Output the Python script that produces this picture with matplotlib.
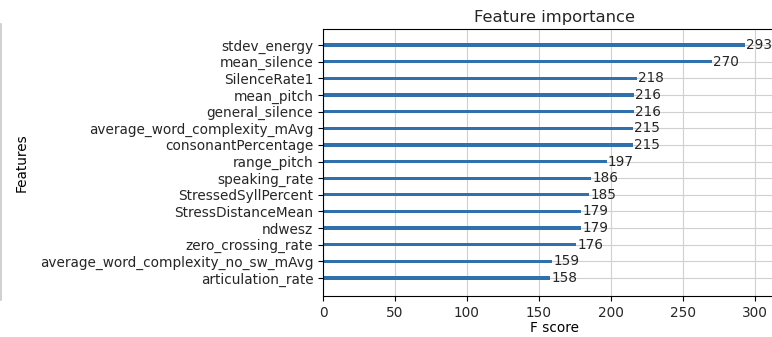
import matplotlib
matplotlib.use("Agg")
import matplotlib.pyplot as plt
from matplotlib.lines import Line2D

# feature importance (F score), listed bottom to top
features = [
    "articulation_rate",
    "average_word_complexity_no_sw_mAvg",
    "zero_crossing_rate",
    "ndwesz",
    "StressDistanceMean",
    "StressedSyllPercent",
    "speaking_rate",
    "range_pitch",
    "consonantPercentage",
    "average_word_complexity_mAvg",
    "general_silence",
    "mean_pitch",
    "SilenceRate1",
    "mean_silence",
    "stdev_energy",
]
scores = [158, 159, 176, 179, 179, 185, 186, 197, 215, 215, 216, 216, 218, 270, 293]

plt.rcParams["font.size"] = 9.8
plt.rcParams["text.color"] = "#262626"
plt.rcParams["xtick.labelcolor"] = "#262626"
plt.rcParams["ytick.labelcolor"] = "#262626"

fig = plt.figure(figsize=(7.72, 3.37), dpi=100)
ax = fig.add_axes([0.4184, 0.1217, 0.601, 0.792])

ylocs = range(len(features))
ax.barh(ylocs, scores, height=0.2, align="center", color="#2f70ad")
for x, y in zip(scores, ylocs):
    ax.text(x + 1, y, x, va="center")

ax.set_yticks(list(ylocs))
ax.set_yticklabels(features)
ax.set_xlim(0, max(scores) * 1.1)
ax.set_ylim(-1.08, 14.96)
ax.set_xticks([0, 50, 100, 150, 200, 250, 300])
ax.set_title("Feature importance", pad=5)
ax.set_xlabel("F score", labelpad=1)
ax.set_ylabel("Features")
ax.yaxis.set_label_coords(-0.634, 0.5)
ax.grid(True, color="#d0d0d0")
ax.set_axisbelow(True)

# notebook cell border on the left
fig.add_artist(Line2D([0.0015, 0.0015], [0.11, 0.93], color="#c8c8c8", lw=1.2,
                      transform=fig.transFigure))

fig.savefig("out.png", dpi=100)
